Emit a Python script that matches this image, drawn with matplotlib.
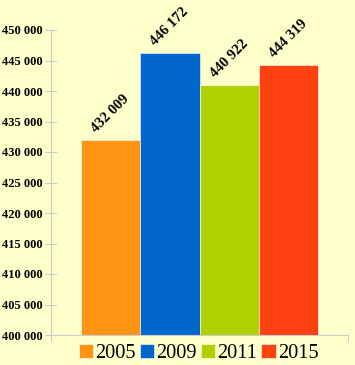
import matplotlib.pyplot as plt

years = ["2005", "2009", "2011", "2015"]
values = [432009, 446172, 440922, 444319]
labels = ["432 009", "446 172", "440 922", "444 319"]
colors = ["#FF9412", "#0066CC", "#B0D000", "#FF4010"]
yticks = list(range(400000, 450001, 5000))

bg = "#FFFFCC"
fig = plt.figure(figsize=(3.55, 3.65), dpi=100, facecolor=bg)
ax = fig.add_axes([51 / 355, 30 / 365, 297 / 355, 305 / 365], facecolor=bg)

for i, (v, c, lab, yr) in enumerate(zip(values, colors, labels, years)):
    ax.bar(i + 0.5, v - 400000, bottom=400000, width=1.0, color=c,
           edgecolor="white", linewidth=0.4, label=yr)
    ax.text(i + 0.5, v + 4300, lab, rotation=45, ha="center", va="center",
            fontsize=10.5, fontweight="bold", family="Liberation Serif",
            rotation_mode="anchor")

ax.set_xlim(-0.5, 4.5)
ax.set_ylim(400000, 450000)
ax.set_yticks(yticks)
ax.set_yticklabels([f"{t // 1000} 000" for t in yticks], fontsize=9,
                   fontweight="bold", family="Liberation Serif")
ax.tick_params(axis="y", direction="inout", length=8, color="#CCCCCC", pad=2)
ax.set_xticks([-0.5, 4.5])
ax.set_xticklabels([])
ax.tick_params(axis="x", direction="out", length=4, color="#CCCCCC")
for s in ["top", "right"]:
    ax.spines[s].set_visible(False)
for s in ["left", "bottom"]:
    ax.spines[s].set_color("#CCCCCC")
    ax.spines[s].set_linewidth(0.8)

fig.legend(loc="lower center", bbox_to_anchor=(0.56, -0.045), ncol=4,
           frameon=False, prop={"family": "Liberation Serif", "size": 14.7},
           handlelength=0.7, handleheight=0.7, handletextpad=0.1,
           columnspacing=0.2)

fig.savefig("out.png", dpi=100, facecolor=bg)
